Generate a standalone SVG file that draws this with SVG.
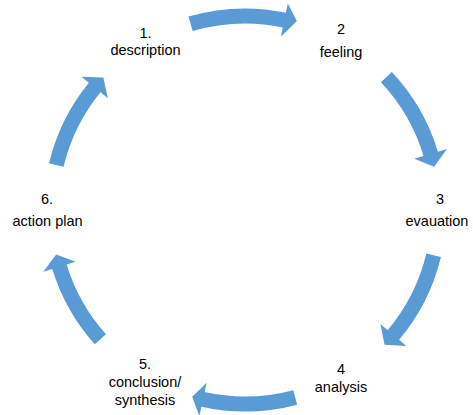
<svg xmlns="http://www.w3.org/2000/svg" width="473" height="415" viewBox="0 0 473 415">
  <style>
    .arrow { fill: #5B9BD5; stroke: none; }
    .label { font-family: "Liberation Sans", Arial, sans-serif; font-size: 14.5px; fill: #000; text-anchor: middle; }
  </style>
  <rect width="473" height="415" fill="#fff"/>

  <!-- curved arrows around a circle centred at (245,210), r = 194 -->
  <g id="connectors">
    <path class="arrow" d="M188.44,16.60 A201.5,201.5 0 0 1 285.86,12.69 L287.79,3.39 L296.84,21.06 L280.90,36.68 L282.82,27.38 A186.5,186.5 0 0 0 192.65,31.00 Z"/>
    <path class="arrow" d="M391.89,72.07 A201.5,201.5 0 0 1 437.90,151.77 L446.99,149.02 L434.11,166.68 L414.44,158.85 L423.54,156.10 A186.5,186.5 0 0 0 380.96,82.34 Z"/>
    <path class="arrow" d="M440.94,257.03 A201.5,201.5 0 0 1 399.13,339.81 L406.39,345.93 L384.55,344.77 L380.39,324.02 L387.65,330.14 A186.5,186.5 0 0 0 426.35,253.53 Z"/>
    <path class="arrow" d="M297.15,404.63 A201.5,201.5 0 0 1 201.40,406.72 L199.34,416.00 L192.17,396.67 L206.70,382.81 L204.64,392.08 A186.5,186.5 0 0 0 293.27,390.14 Z"/>
    <path class="arrow" d="M94.78,344.30 A201.5,201.5 0 0 1 52.31,268.92 L43.22,271.70 L56.20,254.62 L75.73,261.75 L66.65,264.53 A186.5,186.5 0 0 0 105.96,334.30 Z"/>
    <path class="arrow" d="M48.98,163.31 A201.5,201.5 0 0 1 88.86,82.65 L81.50,76.65 L103.34,77.44 L107.84,98.14 L100.48,92.13 A186.5,186.5 0 0 0 63.57,166.79 Z"/>
  </g>

  <g id="node-description">
    <text class="label" x="145.5" y="38">1.</text>
    <text class="label" x="145.5" y="55">description</text>
  </g>
  <g id="node-feeling">
    <text class="label" x="341" y="34">2</text>
    <text class="label" x="341" y="57">feeling</text>
  </g>
  <g id="node-evaluation">
    <text class="label" x="440" y="204">3</text>
    <text class="label" x="437" y="226">evauation</text>
  </g>
  <g id="node-analysis">
    <text class="label" x="341" y="374">4</text>
    <text class="label" x="341" y="392">analysis</text>
  </g>
  <g id="node-conclusion">
    <text class="label" x="145" y="369">5.</text>
    <text class="label" x="145" y="387">conclusion/</text>
    <text class="label" x="145" y="405">synthesis</text>
  </g>
  <g id="node-action-plan">
    <text class="label" x="47" y="204">6.</text>
    <text class="label" x="47.5" y="226">action plan</text>
  </g>
</svg>
